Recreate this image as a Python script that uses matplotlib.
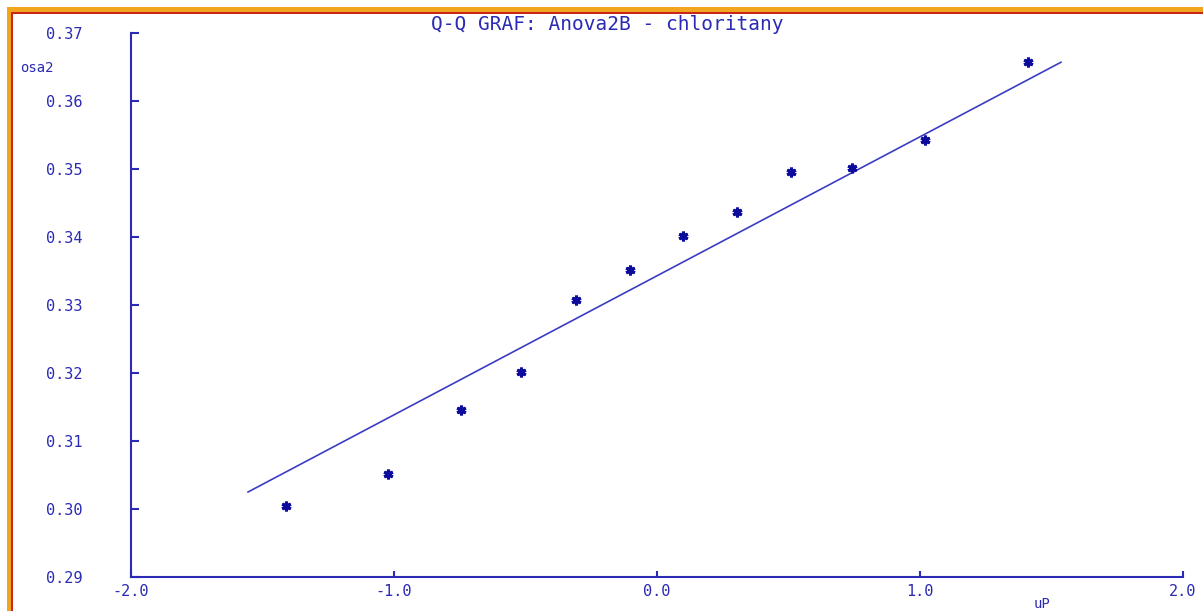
import numpy as np
import matplotlib.pyplot as plt
from matplotlib.patches import Rectangle

# Q-Q data
quantiles = [-1.411, -1.023, -0.745, -0.517, -0.308, -0.103,
             0.099, 0.304, 0.510, 0.741, 1.019, 1.411]
osa2 = [0.3004, 0.3052, 0.3146, 0.3202, 0.3307, 0.3352,
        0.3402, 0.3437, 0.3496, 0.3501, 0.3543, 0.3657]
line_x = [-1.555, 1.536]
line_y = [0.3025, 0.3657]

x_ticks = [-2.0, -1.0, 0.0, 1.0, 2.0]
y_ticks = [0.29, 0.30, 0.31, 0.32, 0.33, 0.34, 0.35, 0.36, 0.37]

W, H = 1203, 611
BLUE = "#2a2ab4"
FONT = "DejaVu Sans Mono"

fig = plt.figure(figsize=(W / 100, H / 100), dpi=100)
fig.patch.set_facecolor("white")

# window frame (orange with thin red inner edge), top and left only
def px_rect(x0, y0, w, h, color):
    fig.patches.append(Rectangle((x0 / W, 1 - (y0 + h) / H), w / W, h / H,
                                 transform=fig.transFigure, color=color,
                                 linewidth=0, zorder=0))

px_rect(7, 7, W - 7, 5, "#f2a41c")
px_rect(7, 7, 4, H - 7, "#f2a41c")
px_rect(11, 12, W - 11, 1.5, "#c8261a")
px_rect(11, 12, 1.5, H - 12, "#c8261a")

ax = fig.add_axes([131 / W, 34 / H, 1052 / W, 544 / H])
ax.plot(line_x, line_y, color="#3c3cc4", linewidth=1.2)
ax.plot(quantiles, osa2, linestyle="none", marker=(6, 2, 0),
        markersize=7, markeredgewidth=2.2, color="#0c0c9c")

ax.set_xlim(-2.0, 2.0)
ax.set_ylim(0.29, 0.37)
ax.set_xticks(x_ticks)
ax.set_xticklabels(["%.1f" % v for v in x_ticks])
ax.set_yticks(y_ticks)
ax.set_yticklabels(["%.2f" % v for v in y_ticks])

for s in ["top", "right"]:
    ax.spines[s].set_visible(False)
for s in ["left", "bottom"]:
    ax.spines[s].set_color(BLUE)
    ax.spines[s].set_linewidth(1.5)

ax.tick_params(axis="y", direction="in", length=6, width=1.5, color=BLUE,
               labelcolor=BLUE, labelsize=11, pad=35)
ax.tick_params(axis="x", direction="in", length=4, width=1.5, color=BLUE,
               labelcolor=BLUE, labelsize=11, pad=5)
for lab in ax.get_xticklabels() + ax.get_yticklabels():
    lab.set_family(FONT)

fig.text(607 / W, 1 - 25 / H, "Q-Q GRAF: Anova2B - chloritany", color=BLUE,
         family=FONT, fontsize=14, ha="center", va="center")
fig.text(20 / W, 1 - 68 / H, "osa2", color=BLUE, family=FONT, fontsize=10,
         ha="left", va="center")
fig.text(1042 / W, 1 - 604 / H, "uP", color=BLUE, family=FONT, fontsize=10,
         ha="center", va="center")

fig.savefig("out.png", dpi=100)
